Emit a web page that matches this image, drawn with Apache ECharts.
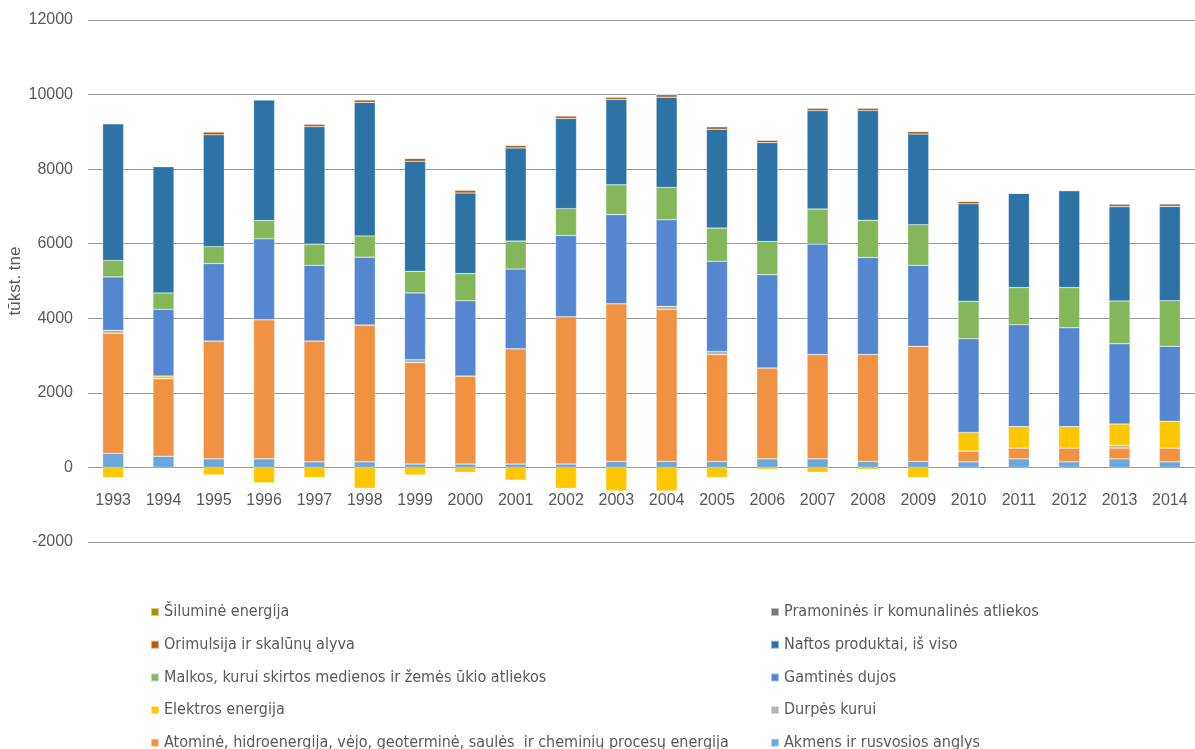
<!DOCTYPE html>
<html>
<head>
<meta charset="utf-8">
<script src="https://cdn.jsdelivr.net/npm/echarts@6/dist/echarts.min.js"></script>
<style>
html,body{margin:0;padding:0;background:#fff;}
#chart{width:1195px;height:749px;}
</style>
</head>
<body>
<div id="chart"></div>
<script>
const years = ['1993','1994','1995','1996','1997','1998','1999','2000','2001','2002','2003','2004','2005','2006','2007','2008','2009','2010','2011','2012','2013','2014'];

const akmens     = [380, 300, 230, 230, 150, 150, 90, 90, 90, 90, 160, 160, 160, 230, 230, 160, 160, 150, 230, 150, 230, 150];
const atomine    = [3220, 2080, 3160, 3730, 3240, 3670, 2720, 2360, 3090, 3950, 4230, 4080, 2870, 2440, 2800, 2870, 3090, 290, 290, 370, 290, 370];
const durpes     = [80, 0, 0, 0, 0, 0, 80, 0, 0, 0, 0, 80, 80, 0, 0, 0, 0, 0, 0, 0, 70, 0];
const elektros   = [-270, 70, -200, -410, -270, -560, -200, -130, -340, -560, -630, -630, -270, -50, -130, -50, -270, 500, 575, 575, 575, 720];
const gamtines   = [1430, 1790, 2080, 2170, 2030, 1820, 1790, 2020, 2140, 2180, 2390, 2320, 2420, 2500, 2960, 2600, 2170, 2510, 2730, 2650, 2150, 2010];
const malkos     = [440, 440, 450, 490, 570, 570, 580, 730, 750, 720, 800, 870, 890, 890, 940, 1000, 1090, 1010, 1000, 1080, 1150, 1220];
const naftos     = [3670, 3390, 3000, 3240, 3150, 3580, 2950, 2160, 2500, 2420, 2290, 2420, 2650, 2650, 2640, 2940, 2430, 2610, 2530, 2600, 2530, 2530];
const orimulsija = [0, 0, 80, 0, 70, 70, 80, 80, 70, 70, 65, 70, 70, 70, 70, 70, 70, 70, 0, 0, 0, 0];
const pramonines = [0, 0, 0, 0, 0, 0, 0, 0, 0, 0, 0, 0, 0, 0, 0, 0, 0, 0, 0, 0, 70, 70];
const silumine   = [0, 0, 0, 0, 0, 0, 0, 0, 0, 0, 0, 0, 0, 0, 0, 0, 0, 0, 0, 0, 0, 0];

const yAxisName = 'tūkst. tne';

const seriesDefs = [
  ['Akmens ir rusvosios anglys', akmens, '#6BA7DB'],
  ['Atominė, hidroenergija, vėjo, geoterminė, saulės  ir cheminių procesų energija', atomine, '#F19242'],
  ['Durpės kurui', durpes, '#B3B3B3'],
  ['Elektros energija', elektros, '#FFC700'],
  ['Gamtinės dujos', gamtines, '#5587D1'],
  ['Malkos, kurui skirtos medienos ir žemės ūkio atliekos', malkos, '#83B75A'],
  ['Naftos produktai, iš viso', naftos, '#2E73A5'],
  ['Orimulsija ir skalūnų alyva', orimulsija, '#B25C14'],
  ['Pramoninės ir komunalinės atliekos', pramonines, '#787878'],
  ['Šiluminė energija', silumine, '#B08C00']
];

const leftLegend = ['Šiluminė energija','Orimulsija ir skalūnų alyva','Malkos, kurui skirtos medienos ir žemės ūkio atliekos','Elektros energija','Atominė, hidroenergija, vėjo, geoterminė, saulės  ir cheminių procesų energija'];
const rightLegend = ['Pramoninės ir komunalinės atliekos','Naftos produktai, iš viso','Gamtinės dujos','Durpės kurui','Akmens ir rusvosios anglys'];

const chart = echarts.init(document.getElementById('chart'));
const legendText = {fontSize: 16, color: '#595959', fontFamily: "'DejaVu Sans Condensed','Liberation Sans Narrow','Liberation Sans',sans-serif", lineHeight: 16};
const legendBase = {orient: 'vertical', top: 604, height: 170, padding: 0, itemWidth: 8, itemHeight: 8, itemGap: 16.7, icon: 'rect', textStyle: legendText, selectedMode: false};

chart.setOption({
  animation: false,
  grid: {left: 88, right: 0, top: 20, bottom: 207, outerBoundsMode: 'none', containLabel: false},
  legend: [
    Object.assign({left: 150, data: leftLegend}, legendBase),
    Object.assign({left: 770, data: rightLegend}, legendBase)
  ],
  xAxis: {
    type: 'category',
    data: years,
    axisLine: {show: false, onZero: false},
    axisTick: {show: false},
    axisLabel: {color: '#595959', fontSize: 16, margin: -49, fontFamily: "'Liberation Sans',sans-serif"}
  },
  yAxis: {
    type: 'value',
    min: -2000, max: 12000, interval: 2000,
    name: yAxisName,
    nameLocation: 'middle',
    nameGap: 64,
    nameMoveOverlap: false,
    nameTextStyle: {color: '#595959', fontSize: 17, fontFamily: "'Liberation Sans',sans-serif"},
    axisLine: {show: false},
    axisTick: {show: false},
    axisLabel: {color: '#595959', fontSize: 16, margin: 15, fontFamily: "'Liberation Sans',sans-serif", formatter: v => String(v)},
    splitLine: {lineStyle: {color: '#9a9a9a', width: 1.2}}
  },
  series: seriesDefs.map(([name, data, color]) => ({
    name, type: 'bar', stack: 'total', data, barWidth: 21,
    itemStyle: {color, borderColor: 'rgba(255,255,255,0.5)', borderWidth: 0.5}
  }))
});
</script>
</body>
</html>
